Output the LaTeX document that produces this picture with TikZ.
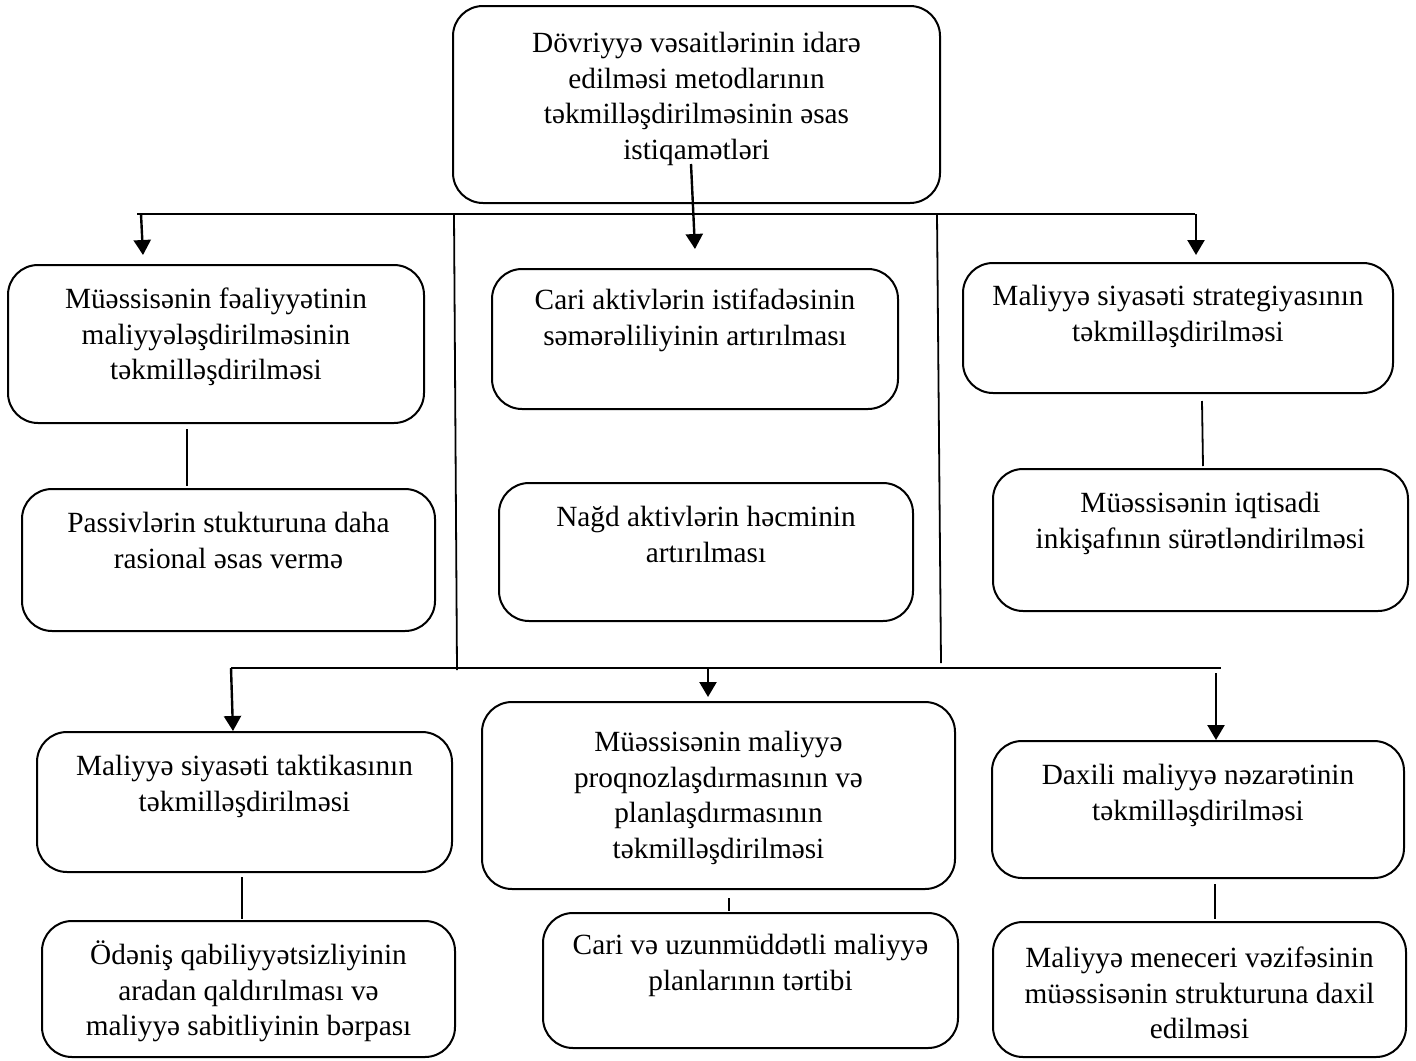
\documentclass[tikz,border=0pt]{standalone}
\usepackage{fontspec}
\setmainfont{Liberation Serif}
\usetikzlibrary{arrows.meta}

\tikzset{
  kutu/.style={draw, line width=2pt, rounded corners=30pt, inner sep=0pt},
  yazi/.style={anchor=north, inner sep=0pt, align=center,
    font=\fontsize{29.3}{35.5}\selectfont,
    execute at begin node={\rule{0pt}{28pt}}},
  ok/.style={line width=2.4pt, -{Triangle[length=15pt,width=17pt]}},
  xett/.style={line width=1.8pt}
}

\begin{document}
\begin{tikzpicture}[x=1pt, y=-1pt]
    \useasboundingbox (0,0) rectangle (1416,1060);

    \node[kutu, minimum width=487pt, minimum height=197pt] (bas) at (696.5,104.5) {};
    \node[yazi] (bas-t) at ([yshift=-27pt]bas.north) {Dövriyyə vəsaitlərinin idarə\\edilməsi metodlarının\\təkmilləşdirilməsinin əsas\\istiqamətləri};

    \node[kutu, minimum width=416pt, minimum height=158pt] (a1) at (216,344) {};
    \node[yazi] (a1-t) at ([yshift=-24pt]a1.north) {Müəssisənin fəaliyyətinin\\maliyyələşdirilməsinin\\təkmilləşdirilməsi};
    \node[kutu, minimum width=406pt, minimum height=140pt] (a2) at (695,339) {};
    \node[yazi] (a2-t) at ([yshift=-21pt]a2.north) {Cari aktivlərin istifadəsinin\\səmərəliliyinin artırılması};
    \node[kutu, minimum width=430pt, minimum height=130pt] (a3) at (1178,328) {};
    \node[yazi] (a3-t) at ([yshift=-23pt]a3.north) {Maliyyə siyasəti strategiyasının\\təkmilləşdirilməsi};

    \node[kutu, minimum width=413pt, minimum height=142pt] (b1) at (228.5,560) {};
    \node[yazi] (b1-t) at ([yshift=-24pt]b1.north) {Passivlərin stukturuna daha\\rasional əsas vermə};
    \node[kutu, minimum width=414pt, minimum height=138pt] (b2) at (706,552) {};
    \node[yazi] (b2-t) at ([yshift=-24pt]b2.north) {Nağd aktivlərin həcminin\\artırılması};
    \node[kutu, minimum width=415pt, minimum height=142pt] (b3) at (1200.5,540) {};
    \node[yazi] (b3-t) at ([yshift=-24pt]b3.north) {Müəssisənin iqtisadi\\inkişafının sürətləndirilməsi};

    \node[kutu, minimum width=415pt, minimum height=140pt] (c1) at (244.5,802) {};
    \node[yazi] (c1-t) at ([yshift=-24pt]c1.north) {Maliyyə siyasəti taktikasının\\təkmilləşdirilməsi};
    \node[kutu, minimum width=473pt, minimum height=187pt] (c2) at (718.5,795.5) {};
    \node[yazi] (c2-t) at ([yshift=-30pt]c2.north) {Müəssisənin maliyyə\\proqnozlaşdırmasının və\\planlaşdırmasının\\təkmilləşdirilməsi};
    \node[kutu, minimum width=412pt, minimum height=137pt] (c3) at (1198,809.5) {};
    \node[yazi] (c3-t) at ([yshift=-24pt]c3.north) {Daxili maliyyə nəzarətinin\\təkmilləşdirilməsi};

    \node[kutu, minimum width=413pt, minimum height=136pt] (d1) at (248.5,989) {};
    \node[yazi] (d1-t) at ([yshift=-21pt]d1.north) {Ödəniş qabiliyyətsizliyinin\\aradan qaldırılması və\\maliyyə sabitliyinin bərpası};
    \node[kutu, minimum width=415pt, minimum height=135pt] (d2) at (750.5,980.5) {};
    \node[yazi] (d2-t) at ([yshift=-22pt]d2.north) {Cari və uzunmüddətli maliyyə\\planlarının tərtibi};
    \node[kutu, minimum width=413pt, minimum height=135pt] (d3) at (1199.5,989.5) {};
    \node[yazi] (d3-t) at ([yshift=-26pt]d3.north) {Maliyyə meneceri vəzifəsinin\\müəssisənin strukturuna daxil\\edilməsi};

    \coordinate (h1-sol) at (137,214);
    \coordinate (h1-sag) at (1195,214);
    \coordinate (h2-sol) at (231,668);
    \coordinate (h2-sag) at (1221,668);
    \coordinate (s1-ust) at (454,214);
    \coordinate (s1-alt) at (457,670);
    \coordinate (s2-ust) at (937,214);
    \coordinate (s2-alt) at (941,663);

    \draw[xett] (h1-sol) -- (h1-sag);
    \draw[xett] (h2-sol) -- (h2-sag);
    \draw[xett] (s1-ust) -- (s1-alt);
    \draw[xett] (s2-ust) -- (s2-alt);

    \draw[ok] ([xshift=4pt]h1-sol) -- ([xshift=6pt,yshift=9pt]h1-sol |- a1.north);
    \draw[ok] ([xshift=-5.5pt,yshift=40pt]bas.south) -- ([xshift=-1.5pt,yshift=19pt]bas.south |- a2.north);
    \draw[ok] ([xshift=1pt]h1-sag) -- ([xshift=1pt,yshift=7pt]h1-sag |- a3.north);

    \draw[ok] (h2-sol) -- ([xshift=2pt]h2-sol |- c1.north);
    \draw[ok] (h2-sol -| 708,0) -- ([yshift=4pt]c2.north -| 708,0);
    \draw[ok] ([xshift=-5pt,yshift=-5pt]h2-sag) -- ([xshift=-5pt]h2-sag |- c3.north);

    \draw[xett] ([yshift=-5pt]a1.south -| 187,0) -- ([yshift=2pt]b1.north -| 187,0);
    \draw[xett] ([yshift=-7pt]a3.south -| 1202,0) -- ([xshift=1pt,yshift=2pt]b3.north -| 1202,0);
    \draw[xett] ([yshift=-4pt]c1.south -| 242,0) -- ([yshift=1pt]d1.north -| 242,0);
    \draw[xett] ([yshift=-8pt]c2.south -| 729,0) -- ([yshift=1pt]d2.north -| 729,0);
    \draw[xett] ([yshift=-5pt]c3.south -| 1215,0) -- ([yshift=2pt]d3.north -| 1215,0);
\end{tikzpicture}
\end{document}
